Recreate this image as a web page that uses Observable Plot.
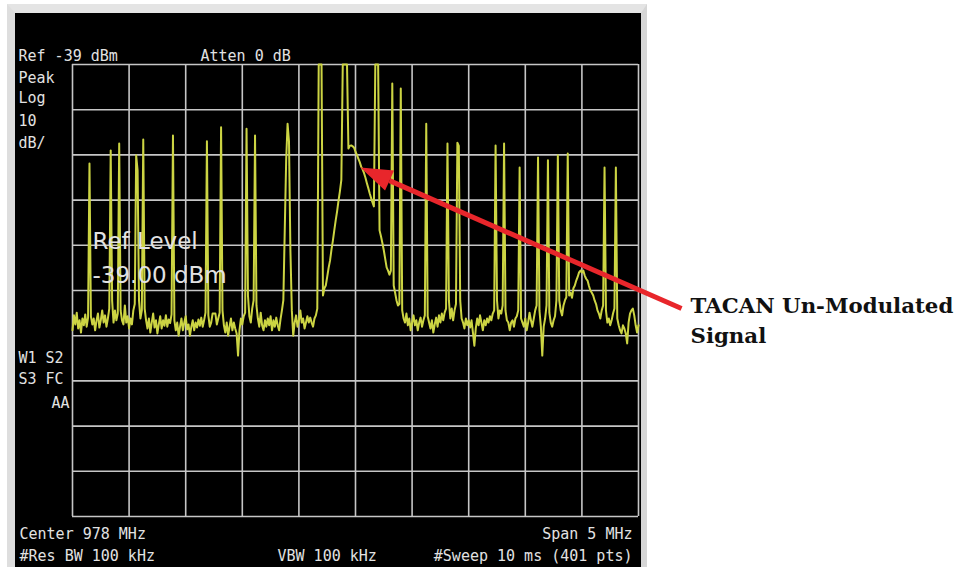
<!DOCTYPE html>
<html><head><meta charset="utf-8">
<script src="https://cdn.jsdelivr.net/npm/d3@7"></script>
<script src="https://cdn.jsdelivr.net/npm/@observablehq/plot@0.6"></script>
<style>
html,body{margin:0;padding:0;background:#fff;}
#wrap{position:relative;width:958px;height:569px;overflow:hidden;background:#fff;}
#panel{position:absolute;left:7px;top:4px;width:626px;height:554px;background:#000;border-left:8px solid #dedede;border-top:9px solid #e4e4e4;border-right:6px solid #d6d6d6;}
#chart{position:absolute;left:0;top:0;}
</style></head><body>
<div id="wrap"><div id="panel"></div><div id="chart"></div></div>
<script>
// Spectrum trace: 401 sweep points, level in dBm
const traceLevelDbm = [
 -97.8,-94.5,-96.5,-93.9,-97.4,-95.6,-98.3,-95.2,-96.7,-94.3,
 -97.0,-95.0,-60.9,-94.7,-96.5,-95.2,-97.8,-95.6,-94.1,-97.2,
 -95.6,-93.4,-96.1,-94.5,-97.0,-95.2,-93.0,-58.0,-91.2,-96.1,
 -93.4,-95.6,-94.1,-56.5,-93.4,-95.6,-96.5,-92.3,-96.1,-94.7,
 -97.4,-95.2,-96.5,-93.4,-92.0,-59.1,-62.4,-91.2,-95.2,-93.4,
 -55.6,-93.0,-95.6,-97.4,-95.2,-98.3,-96.1,-94.1,-97.2,-95.6,
 -98.5,-96.5,-94.7,-97.4,-95.6,-96.8,-94.5,-97.0,-95.4,-96.2,
 -94.3,-54.7,-95.6,-97.8,-96.1,-99.0,-97.0,-95.2,-97.8,-96.1,
 -94.7,-97.6,-96.5,-99.0,-97.0,-95.6,-97.8,-96.1,-97.2,-95.4,
 -96.8,-95.0,-97.0,-95.6,-93.9,-56.0,-94.5,-97.0,-96.1,-94.1,
 -94.1,-94.1,-96.5,-95.2,-93.9,-52.9,-93.4,-96.7,-98.3,-96.1,
 -99.0,-97.0,-95.2,-97.8,-96.1,-97.4,-98.5,-103.4,-97.8,-95.2,
 -96.5,-94.7,-93.9,-53.2,-90.1,-94.7,-96.1,-93.0,-91.2,-54.7,
 -92.3,-95.2,-97.0,-93.9,-96.7,-97.8,-95.6,-97.0,-95.2,-96.7,
 -94.7,-97.8,-95.6,-97.0,-95.0,-96.7,-97.8,-95.4,-93.4,-91.2,
 -75.7,-60.2,-52.1,-56.0,-80.1,-93.4,-99.0,-96.1,-94.5,-97.0,
 -95.6,-93.4,-96.1,-95.2,-97.4,-96.1,-94.7,-96.1,-95.0,-96.1,
 -97.0,-95.2,-94.5,-93.0,-39.0,-39.0,-39.0,-90.1,-88.5,-87.9,
 -86.0,-84.0,-82.4,-80.0,-78.0,-75.7,-73.5,-71.5,-69.1,-67.0,
 -64.5,-39.0,-39.0,-39.0,-39.0,-57.6,-57.0,-56.9,-57.1,-57.4,
 -58.3,-59.0,-59.8,-60.6,-61.6,-62.2,-63.0,-64.0,-65.2,-66.3,
 -67.5,-68.5,-69.5,-70.4,-39.0,-39.0,-39.0,-75.7,-77.0,-78.5,
 -80.1,-82.0,-83.9,-84.6,-85.5,-84.6,-43.2,-87.9,-89.5,-91.2,
 -92.3,-92.0,-44.3,-93.4,-95.2,-96.1,-94.1,-96.7,-95.2,-97.8,
 -96.1,-94.5,-96.7,-95.6,-97.8,-96.1,-95.0,-97.0,-95.6,-94.5,
 -52.1,-94.7,-96.1,-97.4,-95.6,-98.3,-96.5,-95.0,-97.0,-94.5,
 -96.1,-94.1,-95.6,-93.9,-93.0,-56.5,-91.2,-95.2,-93.0,-95.6,
 -93.4,-92.0,-56.3,-57.0,-91.2,-95.2,-96.1,-97.4,-95.2,-96.7,
 -95.6,-97.2,-95.6,-98.3,-101.2,-97.4,-95.2,-96.7,-94.5,-96.1,
 -97.8,-95.6,-96.7,-95.2,-96.1,-94.7,-95.6,-94.1,-93.4,-56.9,
 -91.2,-95.2,-93.4,-94.1,-92.3,-56.5,-93.4,-95.6,-96.1,-97.8,
 -96.1,-95.6,-97.0,-95.2,-94.7,-93.4,-61.8,-95.2,-96.1,-97.0,
 -95.2,-97.8,-96.1,-93.9,-95.6,-97.0,-95.2,-93.4,-92.3,-59.6,
 -93.4,-97.0,-103.4,-97.0,-95.2,-92.3,-60.2,-93.9,-96.1,-97.0,
 -95.6,-94.7,-91.2,-59.1,-91.2,-93.4,-94.5,-92.3,-91.2,-90.5,
 -58.7,-90.1,-89.5,-90.6,-88.5,-87.9,-86.8,-86.0,-85.0,-84.6,
 -85.0,-84.6,-85.7,-86.4,-86.8,-88.0,-89.0,-89.5,-90.1,-91.2,
 -92.0,-93.4,-94.1,-95.2,-93.4,-92.3,-61.8,-93.4,-96.1,-95.2,
 -96.7,-95.6,-94.1,-93.0,-61.8,-95.2,-96.7,-97.8,-98.5,-96.7,
 -97.4,-98.5,-100.7,-96.1,-94.1,-93.4,-93.0,-94.5,-96.7,-98.3,
 -96.7
];

// Graticule: 10 horizontal divisions (sweep points), 10 dB/div vertical
const divisionPts = [0, 40, 80, 120, 160, 200, 240, 280, 320, 360, 400];
const divisionDbm = [-39, -49, -59, -69, -79, -89, -99, -109, -119, -129, -139];

// Instrument annotations
const refText = "Ref -39 dBm";
const attenText = "Atten 0 dB";
const modeTexts = ["Peak", "Log", "10", "dB/"];
const statusTexts = ["W1 S2", "S3 FC", "AA"];
const refLevelTexts = ["Ref Level", "-39.00 dBm"];
const centerText = "Center 978 MHz";
const spanText = "Span 5 MHz";
const resBwText = "#Res BW 100 kHz";
const vbwText = "VBW 100 kHz";
const sweepText = "#Sweep 10 ms (401 pts)";
const calloutTexts = ["TACAN Un-Modulated", "Signal"];

// Callout arrow (sweep point, dBm)
const calloutTail = [{pt: 430.4, dbm: -93.0}];
const calloutShaftEnd = [{pt: 224.0, dbm: -64.7}];
const calloutHead = [{pt: 217.2, dbm: -63.7}];

const mono = "'DejaVu Sans Mono', monospace";
const textColor = "#e2e2e2";
function label(text, dx, dy, o = {}) {
  return Plot.text([text], {
    text: d => d, frameAnchor: "top-left", dx, dy,
    lineAnchor: "bottom", textAnchor: o.anchor || "start",
    fontFamily: o.font || mono, fontSize: o.size || 15,
    fill: o.fill || textColor, fontWeight: o.weight || "normal"
  });
}

const arrowHead = {
  draw(ctx) {
    ctx.moveTo(0, -21.3);
    ctx.lineTo(11, 10.7);
    ctx.lineTo(-11, 10.7);
    ctx.closePath();
  }
};

const links = calloutTail.map((t, i) => ({x1: t.pt, y1: t.dbm, x2: calloutShaftEnd[i].pt, y2: calloutShaftEnd[i].dbm}));

const chart = Plot.plot({
  width: 958,
  height: 569,
  marginLeft: 72,
  marginRight: 320,
  marginTop: 64,
  marginBottom: 53,
  style: {background: "none", overflow: "visible"},
  x: {domain: [0, 400], axis: null},
  y: {domain: [-139, -39], axis: null},
  marks: [
    Plot.ruleX(divisionPts, {stroke: "#c6c6c6", strokeWidth: 1.6}),
    Plot.ruleY(divisionDbm, {stroke: "#c6c6c6", strokeWidth: 1.6}),
    Plot.line(traceLevelDbm, {x: (d, i) => i, y: d => d, stroke: "#ccd443", strokeWidth: 2, strokeLinejoin: "round"}),
    label(refText, -54, -4),
    label(attenText, 128, -4),
    ...modeTexts.map((t, i) => label(t, -54, [18, 38, 61, 83][i])),
    label(statusTexts[0], -54, 298),
    label(statusTexts[1], -54, 319),
    label(statusTexts[2], -3, 343, {anchor: "end"}),
    label(refLevelTexts[0], 20, 184, {font: "'DejaVu Sans', sans-serif", size: 23}),
    label(refLevelTexts[1], 20, 218, {font: "'DejaVu Sans', sans-serif", size: 23}),
    label(centerText, -53, 474),
    label(resBwText, -53, 496),
    label(vbwText, 205, 496),
    label(spanText, 560, 474, {anchor: "end"}),
    label(sweepText, 560, 496, {anchor: "end"}),
    Plot.link(links, {x1: "x1", y1: "y1", x2: "x2", y2: "y2", stroke: "#e8262b", strokeWidth: 5}),
    Plot.dot(calloutHead, {x: "pt", y: "dbm", symbol: arrowHead, fill: "#e8262b", stroke: "none", rotate: -65.7, r: 10}),
    label(calloutTexts[0], 618, 248, {font: "'DejaVu Serif', serif", size: 21.3, weight: "bold", fill: "#111"}),
    label(calloutTexts[1], 618, 278, {font: "'DejaVu Serif', serif", size: 21.3, weight: "bold", fill: "#111"})
  ]
});
document.getElementById("chart").appendChild(chart);
</script>
</body></html>
